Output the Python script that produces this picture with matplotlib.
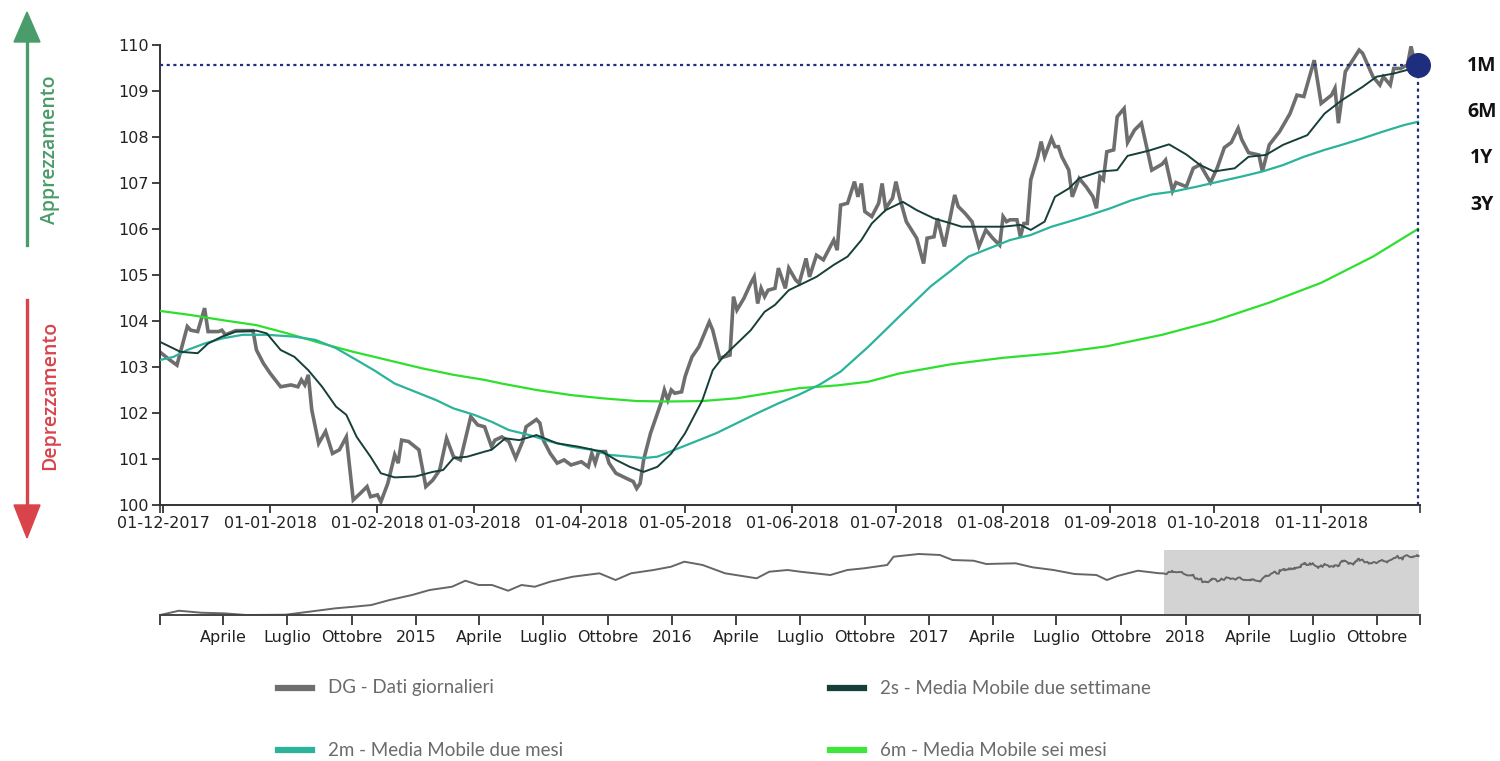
import pandas as pd
import matplotlib
matplotlib.use('Agg')
import matplotlib.pyplot as plt
from matplotlib.lines import Line2D
from matplotlib.patches import Polygon

# giorni contati dal 01-12-2017
start = pd.Timestamp('2017-12-01')

# DG - dati giornalieri (giorno, valore)
dg_points = [
    (-1, 103.33), (2, 103.15), (4, 103.04), (7, 103.88), (8, 103.80), (10, 103.77), (12, 104.28),
    (13, 103.77), (16, 103.77), (17, 103.80), (18, 103.70), (21, 103.79), (26, 103.79), (27, 103.37),
    (29, 103.08), (31, 102.86), (34, 102.57), (37, 102.61), (39, 102.57), (40, 102.72), (41, 102.61),
    (42, 102.83), (43, 102.07), (45, 101.34), (47, 101.60), (49, 101.12), (51, 101.20), (53, 101.48),
    (55, 100.11), (57, 100.25), (59, 100.40), (60, 100.18), (62, 100.22), (63, 100.07), (65, 100.47),
    (67, 101.09), (68, 100.91), (69, 101.41), (71, 101.38), (74, 101.20), (76, 100.40), (78, 100.54),
    (80, 100.76), (82, 101.45), (84, 101.05), (86, 100.98), (89, 101.92), (91, 101.74), (93, 101.70),
    (95, 101.27), (96, 101.41), (98, 101.48), (100, 101.38), (102, 101.02), (104, 101.38), (105, 101.70),
    (108, 101.86), (109, 101.78), (110, 101.41), (112, 101.12), (114, 100.91), (116, 100.98), (118, 100.87),
    (121, 100.94), (123, 100.83), (124, 101.12), (125, 100.91), (126, 101.16), (128, 101.16), (129, 100.91),
    (131, 100.69), (134, 100.58), (136, 100.51), (137, 100.36), (138, 100.47), (139, 100.98), (141, 101.56),
    (144, 102.21), (145, 102.50), (146, 102.28), (147, 102.50), (148, 102.43), (150, 102.46), (151, 102.79),
    (152, 103.01), (153, 103.22), (155, 103.44), (158, 103.98), (159, 103.80), (161, 103.19), (164, 103.26),
    (165, 104.53), (166, 104.24), (168, 104.49), (170, 104.82), (171, 104.96), (172, 104.38), (173, 104.71),
    (174, 104.53), (175, 104.67), (177, 104.71), (178, 105.15), (180, 104.71), (181, 105.15), (183, 104.89),
    (184, 104.82), (186, 105.36), (187, 104.96), (189, 105.43), (191, 105.33), (194, 105.76), (195, 105.54),
    (196, 106.52), (198, 106.56), (200, 107.03), (201, 106.70), (202, 106.99), (203, 106.38), (205, 106.27),
    (207, 106.56), (208, 106.99), (209, 106.45), (211, 106.67), (212, 107.03), (213, 106.70), (215, 106.16),
    (218, 105.80), (220, 105.25), (221, 105.80), (223, 105.83), (224, 106.23), (226, 105.62), (229, 106.74),
    (230, 106.49), (232, 106.34), (234, 106.16), (236, 105.62), (238, 105.98), (240, 105.80), (242, 105.65),
    (243, 106.27), (244, 106.16), (245, 106.20), (247, 106.20), (248, 105.83), (249, 106.12), (250, 106.12),
    (251, 107.07), (253, 107.57), (254, 107.90), (255, 107.57), (257, 107.97), (258, 107.79), (259, 107.79),
    (260, 107.57), (262, 107.28), (263, 106.70), (265, 107.10), (267, 106.92), (269, 106.70), (270, 106.45),
    (271, 107.14), (272, 107.07), (273, 107.68), (275, 107.72), (276, 108.44), (278, 108.62), (279, 107.88),
    (281, 108.15), (283, 108.30), (286, 107.28), (289, 107.41), (290, 107.50), (292, 106.83), (293, 107.01),
    (296, 106.92), (298, 107.32), (300, 107.40), (303, 107.01), (305, 107.34), (307, 107.77), (309, 107.88),
    (311, 108.19), (312, 107.95), (314, 107.66), (317, 107.61), (318, 107.25), (320, 107.83), (323, 108.12),
    (326, 108.51), (328, 108.91), (330, 108.88), (333, 109.67), (335, 108.73), (338, 108.91), (339, 109.06),
    (340, 108.30), (342, 109.42), (346, 109.89), (347, 109.82), (350, 109.31), (352, 109.13), (353, 109.31),
    (355, 109.13), (356, 109.49), (358, 109.49), (360, 109.57), (361, 109.97), (362, 109.64), (363, 109.57),
]

# 2s - media mobile due settimane
ma2s_points = [
    (-1, 103.55), (2, 103.44), (5, 103.33), (10, 103.30), (13, 103.51), (17, 103.66), (21, 103.77),
    (27, 103.79), (30, 103.73), (34, 103.37), (38, 103.22), (42, 102.93), (46, 102.57), (50, 102.14),
    (53, 101.96), (56, 101.48), (60, 101.05), (63, 100.69), (67, 100.60), (73, 100.62), (78, 100.72),
    (81, 100.76), (84, 101.02), (88, 101.05), (93, 101.16), (95, 101.20), (99, 101.45), (103, 101.41),
    (108, 101.52), (114, 101.34), (120, 101.27), (127, 101.16), (131, 100.98), (135, 100.83), (139, 100.72),
    (143, 100.83), (147, 101.12), (151, 101.56), (156, 102.28), (159, 102.93), (162, 103.22), (166, 103.51),
    (170, 103.80), (174, 104.20), (177, 104.35), (181, 104.67), (186, 104.85), (189, 104.96), (194, 105.22),
    (198, 105.40), (202, 105.76), (205, 106.12), (209, 106.41), (214, 106.59), (218, 106.41), (223, 106.23),
    (228, 106.12), (231, 106.05), (237, 106.05), (243, 106.05), (248, 106.09), (251, 105.98), (255, 106.16),
    (258, 106.70), (262, 106.88), (265, 107.10), (271, 107.25), (276, 107.28), (279, 107.59), (285, 107.70),
    (291, 107.84), (296, 107.62), (300, 107.39), (304, 107.25), (310, 107.32), (314, 107.57), (319, 107.61),
    (324, 107.83), (331, 108.04), (336, 108.51), (341, 108.80), (347, 109.09), (351, 109.31), (356, 109.38),
    (360, 109.46), (363, 109.55),
]

# 2m - media mobile due mesi
ma2m_points = [
    (-1, 103.15), (3, 103.22), (7, 103.37), (12, 103.51), (17, 103.62), (23, 103.70), (30, 103.70),
    (38, 103.66), (44, 103.59), (50, 103.41), (56, 103.15), (61, 102.93), (67, 102.64), (73, 102.46),
    (79, 102.28), (84, 102.10), (90, 101.96), (95, 101.81), (100, 101.63), (106, 101.52), (112, 101.38),
    (118, 101.27), (124, 101.20), (129, 101.09), (135, 101.05), (139, 101.02), (143, 101.05), (149, 101.23),
    (154, 101.38), (160, 101.56), (166, 101.78), (172, 102.00), (178, 102.21), (184, 102.40), (190, 102.62),
    (196, 102.90), (204, 103.44), (213, 104.10), (222, 104.75), (228, 105.10), (233, 105.40), (239, 105.58),
    (245, 105.76), (251, 105.87), (257, 106.05), (262, 106.16), (268, 106.30), (274, 106.45), (280, 106.62),
    (286, 106.75), (292, 106.81), (299, 106.92), (306, 107.04), (312, 107.14), (318, 107.25), (324, 107.39),
    (330, 107.57), (336, 107.72), (341, 107.83), (347, 107.97), (353, 108.12), (359, 108.26), (363, 108.33),
]

# 6m - media mobile sei mesi
ma6m_points = [
    (-1, 104.22), (8, 104.13), (17, 104.02), (27, 103.91), (36, 103.73), (46, 103.51), (55, 103.33),
    (65, 103.15), (75, 102.97), (84, 102.83), (93, 102.72), (98, 102.64), (108, 102.50), (118, 102.39),
    (127, 102.32), (137, 102.26), (146, 102.25), (156, 102.26), (166, 102.32), (175, 102.43), (184, 102.54),
    (195, 102.60), (204, 102.68), (213, 102.86), (228, 103.06), (243, 103.20), (258, 103.30), (273, 103.45),
    (289, 103.70), (304, 104.00), (320, 104.40), (335, 104.83), (350, 105.40), (363, 106.00),
]

# storico per il navigatore (prima del 01-12-2017)
ov_points = [
    ('2014-01-01', 88.29), ('2014-01-28', 89.84), ('2014-03-01', 89.12), ('2014-04-02', 88.90),
    ('2014-05-04', 88.29), ('2014-06-29', 88.40), ('2014-08-01', 89.48), ('2014-09-08', 90.71),
    ('2014-10-04', 91.28), ('2014-10-29', 91.90), ('2014-11-24', 93.70), ('2014-12-26', 95.51),
    ('2015-01-20', 97.31), ('2015-02-21', 98.50), ('2015-03-12', 100.67), ('2015-03-31', 99.12),
    ('2015-04-19', 99.12), ('2015-05-12', 97.06), ('2015-05-31', 99.12), ('2015-06-19', 98.50),
    ('2015-07-11', 100.31), ('2015-08-12', 102.11), ('2015-09-19', 103.34), ('2015-10-12', 100.92),
    ('2015-11-03', 103.34), ('2015-12-05', 104.53), ('2015-12-30', 105.72), ('2016-01-18', 107.53),
    ('2016-02-13', 106.34), ('2016-03-16', 103.34), ('2016-04-30', 101.54), ('2016-05-18', 103.92),
    ('2016-06-13', 104.53), ('2016-07-01', 103.92), ('2016-08-13', 102.73), ('2016-09-06', 104.53),
    ('2016-09-30', 105.15), ('2016-11-02', 106.34), ('2016-11-11', 109.33), ('2016-12-17', 110.31),
    ('2017-01-16', 109.95), ('2017-02-03', 108.14), ('2017-03-05', 107.89), ('2017-03-23', 106.70),
    ('2017-05-04', 106.95), ('2017-05-28', 105.51), ('2017-06-27', 104.53), ('2017-07-27', 103.09),
    ('2017-08-27', 102.73), ('2017-09-11', 100.92), ('2017-09-26', 102.37), ('2017-10-25', 104.28),
    ('2017-11-25', 103.34),
]

main_ticks = pd.date_range('2017-12-01', '2018-11-01', freq='MS')
ov_ticks = pd.date_range('2014-01-01', '2018-10-01', freq='QS')
ov_labels = ['', 'Aprile', 'Luglio', 'Ottobre', '2015', 'Aprile', 'Luglio', 'Ottobre',
             '2016', 'Aprile', 'Luglio', 'Ottobre', '2017', 'Aprile', 'Luglio', 'Ottobre',
             '2018', 'Aprile', 'Luglio', 'Ottobre']
period_labels = ['1M', '6M', '1Y', '3Y']

legend_items = [
    ('DG - Dati giornalieri', '#6e6e6e'),
    ('2s - Media Mobile due settimane', '#173f3a'),
    ('2m - Media Mobile due mesi', '#2bb39b'),
    ('6m - Media Mobile sei mesi', '#3ee63e'),
]


def to_series(points):
    days = [p[0] for p in points]
    vals = [p[1] for p in points]
    return start + pd.to_timedelta(days, unit='D'), vals


W, H = 1500, 761


def fx(x):
    return x / W


def fy(y):
    return 1 - y / H


fig = plt.figure(figsize=(15, 7.61), dpi=100)

# ---- grafico principale
ax = fig.add_axes([fx(160), fy(505), fx(1420) - fx(160), fy(45) - fy(505)])

dg_x, dg_y = to_series(dg_points)
ax.plot(dg_x, dg_y, color='#6e6e6e', lw=2.6, solid_joinstyle='miter', zorder=2)
x6, y6 = to_series(ma6m_points)
ax.plot(x6, y6, color='#2ee02e', lw=1.6, zorder=3)
x2m, y2m = to_series(ma2m_points)
ax.plot(x2m, y2m, color='#2bb39b', lw=1.6, zorder=3)
x2s, y2s = to_series(ma2s_points)
ax.plot(x2s, y2s, color='#173f3a', lw=1.4, zorder=4)

x_left = start - pd.Timedelta(days=0.9)
x_right = start + pd.Timedelta(days=363.6)
last_x, last_y = dg_x[-1], dg_y[-1]
navy = '#1f2d7e'
ax.plot([x_left, last_x], [last_y, last_y], color=navy, lw=1.6, ls=(0, (1.4, 1.6)), zorder=5)
ax.plot([last_x, last_x], [100, last_y], color=navy, lw=1.6, ls=(0, (1.4, 1.6)), zorder=5, clip_on=False)
ax.plot([last_x], [last_y], 'o', ms=17, color=navy, zorder=6, clip_on=False)

ax.set_xlim(x_left, x_right)
ax.set_ylim(100, 110)
ax.set_yticks(range(100, 111))
ax.set_xticks(main_ticks)
ax.set_xticklabels([d.strftime('%d-%m-%Y') for d in main_ticks])
ax.set_xticks([x_left, x_right], minor=True)
for s in ['top', 'right']:
    ax.spines[s].set_visible(False)
for s in ['left', 'bottom']:
    ax.spines[s].set_color('#333333')
    ax.spines[s].set_linewidth(1.4)
ax.tick_params(axis='both', labelsize=11.5, colors='#222222', length=6, width=1.2, pad=2)
ax.tick_params(axis='x', which='minor', length=6, width=1.2, color='#333333')

# ---- navigatore
ax2 = fig.add_axes([fx(160), fy(615), fx(1420) - fx(160), fy(550) - fy(615)])
ov_x = list(pd.to_datetime([p[0] for p in ov_points])) + list(dg_x)
ov_y = [p[1] for p in ov_points] + list(dg_y)
ov_end = pd.Timestamp('2018-12-01')
ax2.axvspan(start, x_right, color='#d3d3d3', lw=0, zorder=1)
ax2.plot(ov_x, ov_y, color='#666666', lw=1.4, zorder=2)
ax2.set_xlim(pd.Timestamp('2014-01-01'), ov_end)
ax2.set_ylim(88.3, 111.75)
ax2.set_yticks([])
ax2.set_xticks(ov_ticks)
ax2.set_xticklabels(ov_labels)
ax2.set_xticks([ov_end], minor=True)
for s in ['top', 'right', 'left']:
    ax2.spines[s].set_visible(False)
ax2.spines['bottom'].set_color('#444444')
ax2.spines['bottom'].set_linewidth(1.4)
ax2.tick_params(axis='x', which='both', labelsize=11.5, colors='#222222', length=7, width=1.2)

# ---- etichette periodi a destra
for lab, y in zip(period_labels, [66, 112, 158, 205]):
    fig.text(fx(1482), fy(y), lab, ha='center', va='center', fontsize=14,
             fontweight='bold', family=['Open Sans', 'DejaVu Sans'], color='#111111')

# ---- frecce apprezzamento / deprezzamento
green, red = '#4a9c6a', '#d9434a'
fig.add_artist(Line2D([fx(27), fx(27)], [fy(245), fy(38)], color=green, lw=2.4))
fig.add_artist(Polygon([(fx(27), fy(12)), (fx(14), fy(42)), (fx(40), fy(42))], closed=True, color=green))
fig.text(fx(50), fy(150), 'Apprezzamento', rotation=90, ha='center', va='center', color=green,
         fontsize=14, fontweight='semibold', family=['Open Sans', 'DejaVu Sans'])
fig.add_artist(Line2D([fx(27), fx(27)], [fy(300), fy(510)], color=red, lw=2.4))
fig.add_artist(Polygon([(fx(27), fy(538)), (fx(14), fy(505)), (fx(40), fy(505))], closed=True, color=red))
fig.text(fx(50), fy(395), 'Deprezzamento', rotation=90, ha='center', va='center', color=red,
         fontsize=14, fontweight='semibold', family=['Open Sans', 'DejaVu Sans'])

# ---- legenda
pos = [(278, 688), (830, 688), (278, 750), (830, 750)]
for (lab, col), (x, y) in zip(legend_items, pos):
    fig.add_artist(Line2D([fx(x), fx(x + 34)], [fy(y), fy(y)], color=col, lw=4.5))
    fig.text(fx(x + 50), fy(y), lab, ha='left', va='center', fontsize=13.5, color='#6b6b6b',
             family=['Lato', 'DejaVu Sans'])

fig.savefig('out.png', dpi=100)
